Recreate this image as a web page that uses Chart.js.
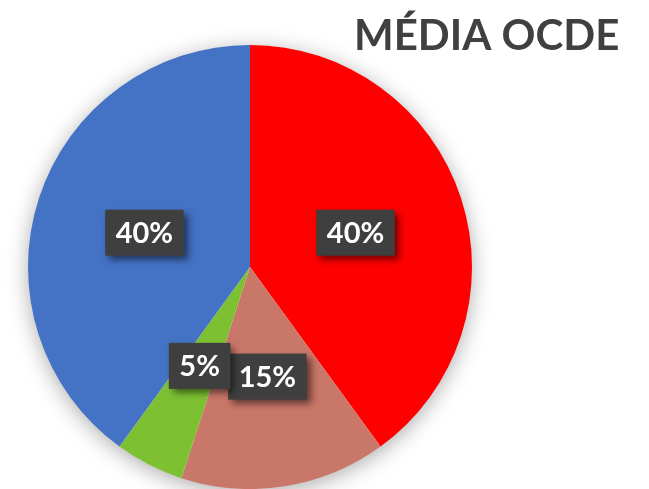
<!DOCTYPE html>
<html>
<head>
<meta charset="utf-8">
<script src="https://cdn.jsdelivr.net/npm/chart.js@4"></script>
<style>
  html, body { margin: 0; padding: 0; background: #fff; }
  #wrap { width: 649px; height: 489px; position: relative; }
</style>
</head>
<body>
<div id="wrap"><canvas id="pieChart" width="649" height="489"></canvas></div>
<script>
const categories = ['Categoria 1', 'Categoria 2', 'Categoria 3', 'Categoria 4'];
const values = [40, 15, 5, 40];
const sliceColors = ['#FF0000', '#C97769', '#7DC133', '#4472C4'];
const chartTitle = 'MÉDIA OCDE';
const fontFamily = 'Lato, "Open Sans", sans-serif';

// soft shadow behind the whole pie
const pieShadow = {
    id: 'pieShadow',
    beforeDatasetsDraw(chart) {
        const arc = chart.getDatasetMeta(0).data[0];
        if (!arc) return;
        const ctx = chart.ctx;
        ctx.save();
        ctx.shadowColor = 'rgba(0,0,0,0.35)';
        ctx.shadowBlur = 22;
        ctx.shadowOffsetY = 4;
        ctx.fillStyle = '#fff';
        ctx.beginPath();
        ctx.arc(arc.x, arc.y, arc.outerRadius - 1, 0, Math.PI * 2);
        ctx.fill();
        ctx.restore();
    }
};

// dark boxed percentage labels + title
const boxLabels = {
    id: 'boxLabels',
    afterDatasetsDraw(chart) {
        const ctx = chart.ctx;
        const total = values.reduce((a, b) => a + b, 0);
        const meta = chart.getDatasetMeta(0);
        ctx.save();
        ctx.font = 'bold 29px ' + fontFamily;
        ctx.textAlign = 'center';
        ctx.textBaseline = 'middle';
        meta.data.forEach((arc, i) => {
            const pos = arc.tooltipPosition();
            const text = Math.round(values[i] / total * 100) + '%';
            const w = Math.max(ctx.measureText(text).width + 21, 58);
            const h = 46;
            ctx.save();
            ctx.shadowColor = 'rgba(0,0,0,0.55)';
            ctx.shadowBlur = 7;
            ctx.shadowOffsetX = 4;
            ctx.shadowOffsetY = 4;
            ctx.fillStyle = '#3f3f3f';
            ctx.fillRect(pos.x - w / 2, pos.y - h / 2, w, h);
            ctx.restore();
            ctx.fillStyle = '#ffffff';
            ctx.fillText(text, pos.x, pos.y + 1);
        });
        ctx.font = 'bold 42px ' + fontFamily;
        ctx.fillStyle = '#404040';
        ctx.textAlign = 'left';
        ctx.textBaseline = 'alphabetic';
        ctx.fillText(chartTitle, 354, 50);
        ctx.restore();
    }
};

new Chart(document.getElementById('pieChart'), {
    type: 'pie',
    data: {
        labels: categories,
        datasets: [{
            data: values,
            backgroundColor: sliceColors,
            borderWidth: 0
        }]
    },
    options: {
        responsive: false,
        animation: false,
        layout: {
            padding: { left: 28, right: 177, top: 45, bottom: 0 }
        },
        plugins: {
            legend: { display: false },
            tooltip: { enabled: false }
        }
    },
    plugins: [pieShadow, boxLabels]
});
</script>
</body>
</html>
